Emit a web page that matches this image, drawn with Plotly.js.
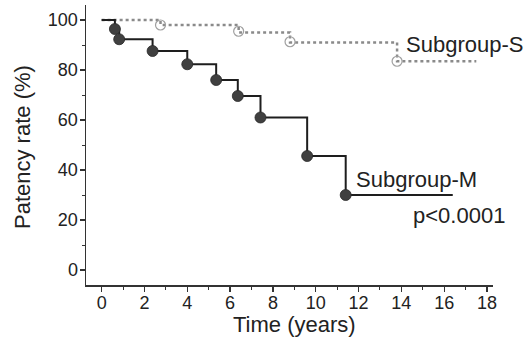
<!DOCTYPE html>
<html>
<head>
<meta charset="utf-8">
<script src="https://cdn.plot.ly/plotly-3.0.1.min.js"></script>
<style>html,body{margin:0;padding:0;background:#fff;}#chart{width:531px;height:343px;}</style>
</head>
<body>
<div id="chart"></div>
<script>
// Subgroup-M (solid, filled markers)
const mTime = [0, 0.62, 0.82, 2.38, 4.0, 5.35, 6.36, 7.42, 9.6, 11.4, 16.4];
const mRate = [100, 96.4, 92.3, 87.6, 82.3, 76, 69.6, 61, 45.6, 30, 30];
const mEventTime = [0.62, 0.82, 2.38, 4.0, 5.35, 6.36, 7.42, 9.6, 11.4];
const mEventRate = [96.4, 92.3, 87.6, 82.3, 76, 69.6, 61, 45.6, 30];
// Subgroup-S (dotted, open markers)
const sTime = [0, 2.75, 6.4, 8.8, 13.8, 17.5];
const sRate = [100, 98, 95, 91, 83.5, 83.5];
const sEventTime = [2.75, 6.4, 8.8, 13.8];
const sEventRate = [98, 95.5, 91.3, 83.5];
const xTicks = [0, 2, 4, 6, 8, 10, 12, 14, 16, 18];
const yTicks = [0, 20, 40, 60, 80, 100];

const font = "Liberation Sans, Arial, sans-serif";
const traces = [
  {x: sTime, y: sRate, mode: 'lines', line: {shape: 'hv', color: '#8a8a8a', width: 2.5, dash: 'dot'}, hoverinfo: 'skip'},
  {x: sEventTime, y: sEventRate, mode: 'markers', marker: {symbol: 'circle-open', size: 10, color: '#a0a0a0', line: {width: 1.2, color: '#a0a0a0'}}},
  {x: mTime, y: mRate, mode: 'lines', line: {shape: 'hv', color: '#1e1e1e', width: 2}},
  {x: mEventTime, y: mEventRate, mode: 'markers', marker: {symbol: 'circle', size: 11, color: '#404040', line: {width: 0.8, color: '#2a2a2a'}}}
];
const axCommon = {
  showgrid: false, zeroline: false, showline: true, linecolor: '#333', linewidth: 1.5,
  ticks: 'outside', ticklen: 5, tickwidth: 1.3, tickcolor: '#333',
  tickfont: {family: font, size: 18, color: '#222'}
};
const layout = {
  width: 531, height: 343,
  margin: {l: 86, r: 38, t: 5, b: 58},
  paper_bgcolor: '#fff', plot_bgcolor: '#fff',
  showlegend: false,
  font: {family: font, color: '#222'},
  xaxis: Object.assign({}, axCommon, {
    range: [-0.73, 18.28], tickvals: xTicks, ticktext: xTicks.map(String),
    ticklabelstandoff: -4,
    minor: {dtick: 1, tick0: 1, ticks: 'outside', ticklen: 3, tickcolor: '#333', tickwidth: 1}
  }),
  yaxis: Object.assign({}, axCommon, {
    range: [-6, 106], tickvals: yTicks, ticktext: yTicks.map(String),
    ticklabelstandoff: -2,
    minor: {dtick: 10, tick0: 10, ticks: 'outside', ticklen: 3, tickcolor: '#333', tickwidth: 1}
  }),
  annotations: [
    {text: 'Patency rate (%)', textangle: -90, xref: 'paper', yref: 'y', x: 0, xanchor: 'center', yanchor: 'middle', xshift: -63.5, y: 49, showarrow: false, font: {family: font, size: 22, color: '#222'}},
    {text: 'Time (years)', xref: 'x', yref: 'paper', x: 9.03, y: 0, xanchor: 'center', yanchor: 'middle', yshift: -39, showarrow: false, font: {family: font, size: 22, color: '#222'}},
    {text: 'Subgroup-S', xref: 'x', yref: 'y', x: 14.1, y: 90.2, xanchor: 'left', yanchor: 'middle', showarrow: false, font: {family: font, size: 22, color: '#222'}},
    {text: 'Subgroup-M', xref: 'x', yref: 'y', x: 11.78, y: 36.3, xanchor: 'left', yanchor: 'middle', showarrow: false, font: {family: font, size: 22, color: '#222'}},
    {text: 'p<0.0001', xref: 'x', yref: 'y', x: 14.47, y: 21.7, xanchor: 'left', yanchor: 'middle', showarrow: false, font: {family: font, size: 22, color: '#222'}}
  ]
};
Plotly.newPlot('chart', traces, layout, {displayModeBar: false, staticPlot: true});
</script>
</body>
</html>
